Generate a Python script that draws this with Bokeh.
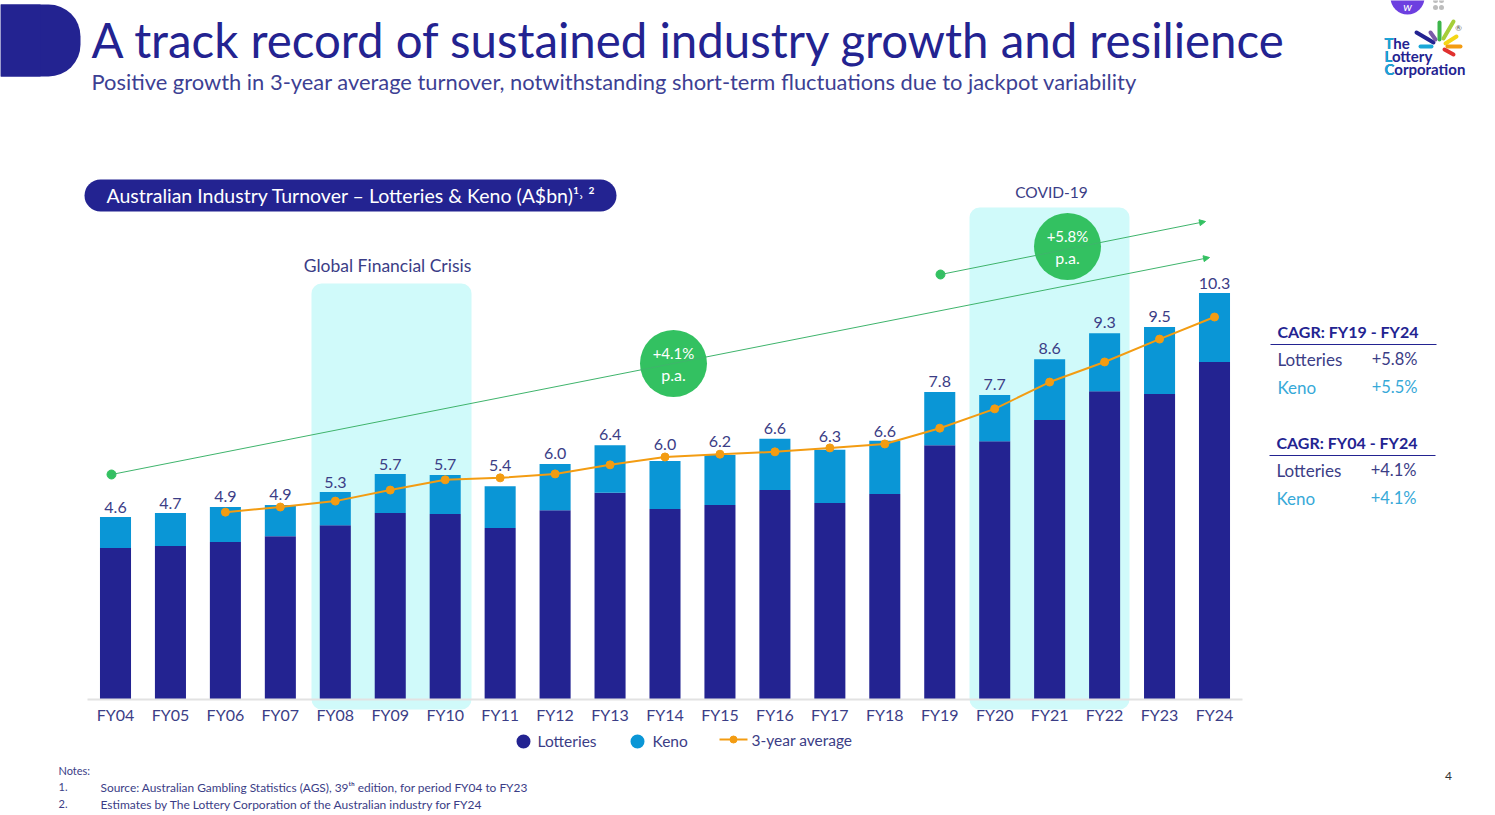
from bokeh.plotting import figure
from bokeh.models import (BoxAnnotation, Label, ColumnDataSource, FixedTicker, Range1d,
                          Arrow, NormalHead)
from bokeh.core.properties import value
from bokeh.embed import file_html
from bokeh.resources import INLINE

years = ["FY04","FY05","FY06","FY07","FY08","FY09","FY10","FY11","FY12","FY13","FY14",
         "FY15","FY16","FY17","FY18","FY19","FY20","FY21","FY22","FY23","FY24"]
lotteries = [3.83,3.88,3.98,4.13,4.41,4.72,4.69,4.34,4.79,5.23,4.82,4.92,5.30,4.97,5.20,6.44,6.54,7.08,7.81,7.74,8.55]
keno = [0.79,0.84,0.89,0.79,0.84,0.99,0.99,1.06,1.17,1.21,1.22,1.27,1.30,1.35,1.35,1.35,1.17,1.54,1.47,1.70,1.75]
total_labels = ["4.6","4.7","4.9","4.9","5.3","5.7","5.7","5.4","6.0","6.4","6.0","6.2","6.6","6.3","6.6","7.8","7.7","8.6","9.3","9.5","10.3"]
avg_years = years[2:]
avg3 = [4.74,4.87,5.02,5.30,5.56,5.61,5.71,5.94,6.14,6.21,6.27,6.37,6.47,6.87,7.36,8.04,8.55,9.13,9.69]

NAVY, BLUE, ORANGE, GREEN, TEAL = "#232391", "#0a96d6", "#f39c12", "#33c161", "#d0fafa"
INK = "#3b3d86"
FONT = "Lato"
W, H = 1495, 815
SX, SY, X0, Y0 = 54.95, 39.42, 115, 698.5

def dx(px): return (px - X0) / SX
def dy(py): return (Y0 - py) / SY

p = figure(width=W, height=H, output_backend="svg", toolbar_location=None, min_border=0,
           x_range=Range1d(dx(0), dx(W)), y_range=Range1d(dy(H), dy(0)),
           y_axis_location=None, outline_line_color=None, background_fill_color="white")
p.grid.visible = False

def box(l, r, t, b, color, radius):
    p.add_layout(BoxAnnotation(left=dx(l), right=dx(r), top=dy(t), bottom=dy(b), fill_color=color,
                               fill_alpha=1, line_color=None, border_radius=radius, level="underlay"))

def T(x, y, s, size, color=INK, align="left", base="middle", style="normal"):
    p.add_layout(Label(x=dx(x), y=dy(y - 0.5), text=s, text_font=FONT, text_font_size=f"{size}px",
                       text_color=color, text_align=align, text_baseline=base, text_font_style=style))

# header decoration
box(0, 80, 4, 76, NAVY, (0, 32, 32, 0))
box(0, 40, 4, 76, NAVY, 0)
box(311, 471, 283, 709, TEAL, 10)
box(969, 1129, 207, 709, TEAL, 10)
box(84, 616, 179, 211, NAVY, 16)

# axis
ax = p.xaxis[0]
ax.fixed_location = 0
ax.ticker = FixedTicker(ticks=list(range(len(years))))
ax.major_label_overrides = {i: y for i, y in enumerate(years)}
ax.bounds = (-0.51, 20.51)
ax.major_tick_line_color = None
ax.minor_tick_line_color = None
ax.axis_line_color = "#e2e2e2"
ax.axis_line_width = 2
ax.major_label_text_font = FONT
ax.major_label_text_font_size = "16px"
ax.major_label_text_color = INK
ax.major_label_standoff = 0

# bars
xs = list(range(len(years)))
tops = [a + b for a, b in zip(lotteries, keno)]
lift = [-4,-4,-5,-5,-4,-4,-5,-15,-5,-5,-11,-8,-5,-8,-4,-5,-5,-5,-5,-5,-4]
src = ColumnDataSource(dict(x=xs, lot=lotteries, top=tops, lab=total_labels, lift=lift))
p.vbar(x="x", width=0.565, bottom=0, top="lot", source=src, fill_color=NAVY, line_color=None)
p.vbar(x="x", width=0.565, bottom="lot", top="top", source=src, fill_color=BLUE, line_color=None)
p.text(x="x", y="top", text="lab", source=src, text_align="center", text_baseline="bottom", y_offset="lift",
       text_font=value(FONT), text_font_size="16px", text_color=INK)

# 3-year average
avg_x = [years.index(y) for y in avg_years]
p.line(avg_x, avg3, line_color=ORANGE, line_width=2)
p.scatter(avg_x, avg3, size=8, fill_color=ORANGE, line_color=ORANGE)

# CAGR trend arrows
def trend(x0, y0, x1, y1, bx, by, s1):
    p.add_layout(Arrow(end=NormalHead(size=6, fill_color=GREEN, line_color=GREEN), x_start=dx(x0), y_start=dy(y0),
                       x_end=dx(x1), y_end=dy(y1), line_color="#3fb46c", line_width=1))
    p.scatter([dx(x0)], [dy(y0)], size=9, fill_color=GREEN, line_color=GREEN)
    p.scatter([dx(bx)], [dy(by)], size=67, fill_color=GREEN, line_color=None)
    T(bx, by - 10, s1, 15, "white", "center")
    T(bx, by + 11, "p.a.", 16, "white", "center")
trend(111, 474, 1209, 257, 673, 363, "+4.1%")
trend(940, 274, 1205, 221, 1067, 246, "+5.8%")

# headline text
T(91, 39.5, "A track record of sustained industry growth and resilience", 47.4, NAVY)
T(91, 81.5, "Positive growth in 3-year average turnover, notwithstanding short-term fluctuations due to jackpot variability", 21.9, "#3d3f93")
T(106, 195.5, "Australian Industry Turnover – Lotteries & Keno (A$bn)¹˒ ²", 19.5, "white")
T(387, 265.5, "Global Financial Crisis", 17.5, INK, "center")
T(1051, 191.5, "COVID-19", 15.5, INK, "center")

# legend
p.scatter([dx(523), dx(637)], [dy(741), dy(741)], size=14, fill_color=[NAVY, BLUE], line_color=None)
p.line([dx(719), dx(747)], [dy(739), dy(739)], line_color=ORANGE, line_width=2)
p.scatter([dx(733)], [dy(739)], size=7, fill_color=ORANGE, line_color=ORANGE)
T(537, 741, "Lotteries", 15.5)
T(652, 741, "Keno", 15.5)
T(751, 740, "3-year average", 15.5)

# CAGR tables
def table(x, yh, head, v1, v2):
    T(x, yh - 0.5, head, 16, NAVY, style="bold")
    p.line([dx(x - 7), dx(x + 159)], [dy(yh + 12), dy(yh + 12)], line_color=NAVY, line_width=1)
    T(x, yh + 27, "Lotteries", 17)
    T(x + 140, yh + 27, v1, 16.5, INK, "right")
    T(x, yh + 55, "Keno", 17, "#37a9d8")
    T(x + 140, yh + 55, v2, 16.5, "#37a9d8", "right")
table(1277, 332, "CAGR: FY19 - FY24", "+5.8%", "+5.5%")
table(1276, 443, "CAGR: FY04 - FY24", "+4.1%", "+4.1%")

# notes
T(58, 770, "Notes:", 11)
T(58, 787, "1.", 11)
T(100, 787, "Source: Australian Gambling Statistics (AGS), 39ᵗʰ edition, for period FY04 to FY23", 11.9)
T(58, 804, "2.", 11)
T(100, 804, "Estimates by The Lottery Corporation of the Australian industry for FY24", 12)
T(1448, 776, "4", 12, "#333333", "center")

# logo
rays = [(1416,32,1433,42,"#232391"),(1430,32,1435,39,"#7a5ba8"),(1439,22,1439,39,"#3cb54a"),
        (1453,21,1443,38,"#a6ce39"),(1456,36,1445,43,"#f4d616"),(1460,46,1447,46,"#f39c12"),
        (1453,54,1444,49,"#e0312f"),(1431,46,1420,46,"#1aa7d8")]
for x0, y0, x1, y1, c in rays:
    p.line([dx(x0), dx(x1)], [dy(y0), dy(y1)], line_color=c, line_width=4, line_cap="round")
T(1458, 28, "®", 8, "#555555", "center")
for word, y in (("The", 43), ("Lottery", 56), ("Corporation", 69)):
    T(1384, y, word, 15, NAVY, style="bold")
    T(1384, y, word[0], 15, "#1aa7d8", style="bold")

# overlay badge at page top
p.scatter([dx(1407)], [dy(-3)], size=34, fill_color="#6d3fe0", line_color=None)
T(1407, 6, "w", 12, "white", "center", style="italic")
p.scatter([dx(1435), dx(1441), dx(1435), dx(1441)], [dy(0), dy(0), dy(7), dy(7)], size=5,
          fill_color="#bdbdbd", line_color=None)

open("out.html", "w").write(file_html(p, INLINE))
